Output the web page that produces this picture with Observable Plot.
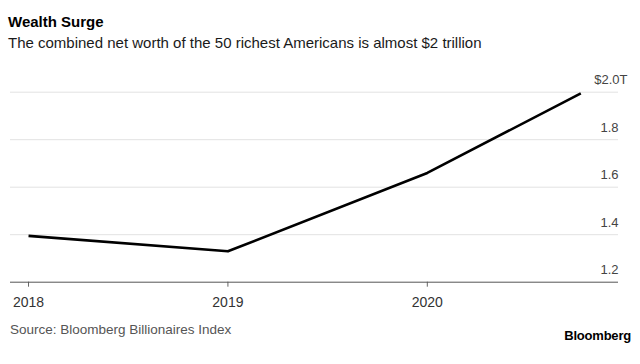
<!DOCTYPE html>
<html>
<head>
<meta charset="utf-8">
<script src="https://cdn.jsdelivr.net/npm/d3@7"></script>
<script src="https://cdn.jsdelivr.net/npm/@observablehq/plot@0.6"></script>
<style>
  html, body { margin: 0; padding: 0; background: #fff; }
  body { width: 640px; height: 364px; position: relative; overflow: hidden; font-family: "Liberation Sans", Arial, sans-serif; }
  .title { position: absolute; left: 8px; top: 14px; font-size: 15px; line-height: 15px; font-weight: bold; color: #000; white-space: nowrap; }
  .subtitle { position: absolute; left: 8px; top: 35px; font-size: 15px; line-height: 15px; color: #1a1a1a; white-space: nowrap; }
  #chart { position: absolute; left: 0; top: 60px; }
  .source { position: absolute; left: 10px; top: 323px; font-size: 13.5px; line-height: 13.5px; color: #555; white-space: nowrap; }
  .logo { position: absolute; right: 9px; top: 329px; font-size: 13px; line-height: 13px; font-weight: bold; color: #000; letter-spacing: -0.2px; white-space: nowrap; }
</style>
</head>
<body>
<div class="title">Wealth Surge</div>
<div class="subtitle">The combined net worth of the 50 richest Americans is almost $2 trillion</div>
<div id="chart"></div>
<div class="source">Source: Bloomberg Billionaires Index</div>
<div class="logo">Bloomberg</div>
<script>
// Data
const dates = ["2018-01-01", "2019-01-01", "2020-01-01", "2020-10-08"];
const netWorth = [1.395, 1.33, 1.66, 1.995]; // trillions USD
const yTicks = [1.2, 1.4, 1.6, 1.8, 2.0];
const yTickLabels = ["1.2", "1.4", "1.6", "1.8", "$2.0"];
const xTicks = ["2018-01-01", "2019-01-01", "2020-01-01"];
const xTickLabels = ["2018", "2019", "2020"];

const data = dates.map((d, i) => ({date: new Date(d), value: netWorth[i]}));
const xTickDates = xTicks.map(d => new Date(d));
const yt = yTicks.map((v, i) => ({value: v, label: yTickLabels[i]}));

const plot = Plot.plot({
  width: 640,
  height: 260,
  marginLeft: 10,
  marginRight: 22,
  marginTop: 31.7,
  marginBottom: 38.3,
  style: {fontFamily: "'Liberation Sans', Arial, sans-serif", background: "transparent"},
  x: {type: "utc", domain: [new Date("2017-11-29"), new Date("2020-12-16")]},
  y: {domain: [1.2, 2.0], axis: null},
  marks: [
    Plot.ruleY(yTicks.filter(v => v > 1.2), {stroke: "#e2e2e2", strokeWidth: 1}),
    Plot.axisX({
      ticks: xTickDates,
      tickFormat: d => xTickLabels[xTickDates.findIndex(t => +t === +d)],
      tickSize: 5,
      tickPadding: 10,
      fontSize: 14,
      stroke: "#666",
      fill: "#333",
      label: null
    }),
    Plot.ruleY([1.2], {stroke: "#555", strokeWidth: 1}),
    Plot.text(yt.filter(d => d.value < 2), {y: "value", frameAnchor: "right", text: "label", textAnchor: "end", lineAnchor: "bottom", dy: -8, fontSize: 13, fill: "#444"}),
    Plot.text(yt.filter(d => d.value === 2), {y: "value", frameAnchor: "right", text: d => d.label + "T", textAnchor: "end", lineAnchor: "bottom", dy: -8, dx: 9, fontSize: 13, fill: "#444"}),
    Plot.line(data, {x: "date", y: "value", stroke: "#000", strokeWidth: 2.6, strokeLinejoin: "round", strokeLinecap: "butt"})
  ]
});
document.getElementById("chart").appendChild(plot);
</script>
</body>
</html>
